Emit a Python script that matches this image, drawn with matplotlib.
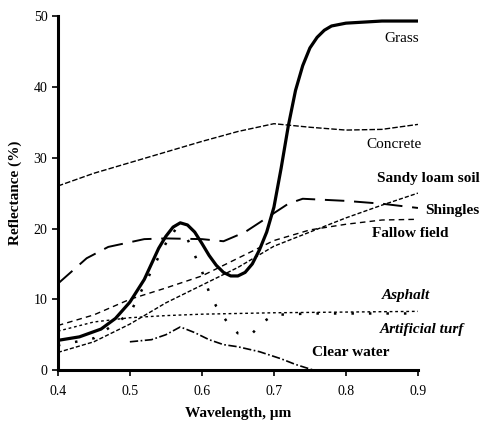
import matplotlib
matplotlib.use("Agg")
import matplotlib.pyplot as plt

plt.rcParams['font.family'] = ['Liberation Serif', 'DejaVu Serif']

# wavelength (um) / reflectance (%)
grass_x = [0.40, 0.43, 0.46, 0.48, 0.50, 0.52, 0.53, 0.54, 0.55, 0.56, 0.57, 0.58, 0.59,
           0.60, 0.61, 0.62, 0.63, 0.64, 0.65, 0.66, 0.67, 0.68, 0.69, 0.70, 0.71, 0.72,
           0.73, 0.74, 0.75, 0.76, 0.77, 0.78, 0.80, 0.85, 0.90]
grass_y = [4.2, 4.7, 5.8, 7.3, 9.6, 12.8, 15.0, 17.2, 18.9, 20.2, 20.8, 20.5, 19.5,
           17.9, 16.2, 14.8, 13.8, 13.3, 13.3, 13.8, 15.0, 17.0, 19.5, 23.0, 28.5, 34.5,
           39.5, 43.0, 45.5, 47.0, 48.0, 48.6, 49.0, 49.3, 49.3]

concrete_x = [0.40, 0.45, 0.50, 0.55, 0.60, 0.65, 0.70, 0.75, 0.80, 0.85, 0.90]
concrete_y = [26.0, 27.8, 29.3, 30.8, 32.3, 33.7, 34.8, 34.3, 33.9, 34.0, 34.7]

sandy_x = [0.40, 0.44, 0.47, 0.52, 0.55, 0.60, 0.63, 0.66, 0.69, 0.72, 0.74, 0.80, 0.85, 0.90]
sandy_y = [12.2, 15.8, 17.4, 18.5, 18.6, 18.5, 18.2, 19.5, 21.5, 23.5, 24.2, 23.9, 23.5, 22.9]

fallow_x = [0.40, 0.45, 0.50, 0.55, 0.60, 0.65, 0.70, 0.75, 0.80, 0.85, 0.90]
fallow_y = [6.3, 7.8, 10.0, 11.6, 13.3, 15.8, 18.3, 19.8, 20.6, 21.2, 21.3]

shingles_x = [0.40, 0.45, 0.50, 0.55, 0.60, 0.65, 0.70, 0.75, 0.80, 0.85, 0.90]
shingles_y = [2.5, 4.0, 6.5, 9.5, 12.0, 14.5, 17.5, 19.5, 21.5, 23.3, 25.0]

asphalt_x = [0.40, 0.45, 0.50, 0.55, 0.60, 0.70, 0.80, 0.90]
asphalt_y = [5.5, 6.8, 7.4, 7.7, 7.9, 8.1, 8.2, 8.3]

turf_x = [0.40, 0.45, 0.50, 0.52, 0.53, 0.54, 0.56, 0.58, 0.60, 0.61, 0.62, 0.635,
          0.65, 0.67, 0.685, 0.70, 0.75, 0.80, 0.90]
turf_y = [3.5, 4.5, 8.0, 12.0, 14.0, 16.0, 19.8, 18.5, 14.0, 11.0, 9.0, 6.8,
          5.2, 5.2, 6.8, 7.8, 8.0, 8.0, 8.0]

water_x = [0.50, 0.53, 0.55, 0.57, 0.59, 0.61, 0.63, 0.65, 0.68, 0.71, 0.73, 0.755]
water_y = [4.0, 4.3, 5.0, 6.1, 5.3, 4.3, 3.6, 3.3, 2.6, 1.6, 0.8, 0.0]

x_ticks = [0.4, 0.5, 0.6, 0.7, 0.8, 0.9]
y_ticks = [0, 10, 20, 30, 40, 50]

fig = plt.figure(figsize=(4.86, 4.23), dpi=100)
ax = fig.add_axes([0.119, 0.125, 0.741, 0.837])

ax.plot(concrete_x, concrete_y, color='black', lw=1.0, ls=(0, (4, 1.5)))
ax.plot(sandy_x, sandy_y, color='black', lw=1.4, ls=(0, (10, 5)))
ax.plot(fallow_x, fallow_y, color='black', lw=1.0, ls=(0, (4, 3)))
ax.plot(shingles_x, shingles_y, color='black', lw=1.0, ls=(0, (3, 1.5)))
ax.plot(asphalt_x, asphalt_y, color='black', lw=1.0, ls=(0, (2, 2)))
ax.plot(turf_x, turf_y, color='black', lw=1.8, ls=(0, (1, 6)))
ax.plot(water_x, water_y, color='black', lw=1.2, ls=(0, (5, 1.5, 1, 1.5)))
ax.plot(grass_x, grass_y, color='black', lw=2.3)

ax.set_xlim(0.4, 0.9)
ax.set_ylim(0, 50)
ax.set_xticks(x_ticks)
ax.set_xticklabels([str(t) for t in x_ticks])
ax.set_yticks(y_ticks)
ax.tick_params(direction='out', length=4, width=1.2, labelsize=10)
ax.tick_params(axis='x', pad=7)
for s in ['top', 'right']:
    ax.spines[s].set_visible(False)
ax.spines['left'].set_linewidth(2.2)
ax.spines['bottom'].set_linewidth(2.2)

ax.set_xlabel('Wavelength, \u03bcm', fontsize=11, fontweight='bold', labelpad=6)
ax.set_ylabel('Reflectance (%)', fontsize=11, fontweight='bold', labelpad=8)

lab = dict(fontsize=11, ha='left', va='center', clip_on=False)
ax.text(0.854, 46.9, 'Grass', **lab)
ax.text(0.829, 31.8, 'Concrete', **lab)
ax.text(0.843, 27.1, 'Sandy loam soil', fontweight='bold', **lab)
ax.text(0.910, 22.6, 'Shingles', fontweight='bold', **lab)
ax.text(0.836, 19.3, 'Fallow field', fontweight='bold', **lab)
ax.text(0.850, 10.6, 'Asphalt', style='italic', fontweight='bold', **lab)
ax.text(0.847, 5.7, 'Artificial turf', style='italic', fontweight='bold', **lab)
ax.text(0.753, 2.5, 'Clear water', fontweight='bold', **lab)

fig.savefig('out.png', dpi=100)
